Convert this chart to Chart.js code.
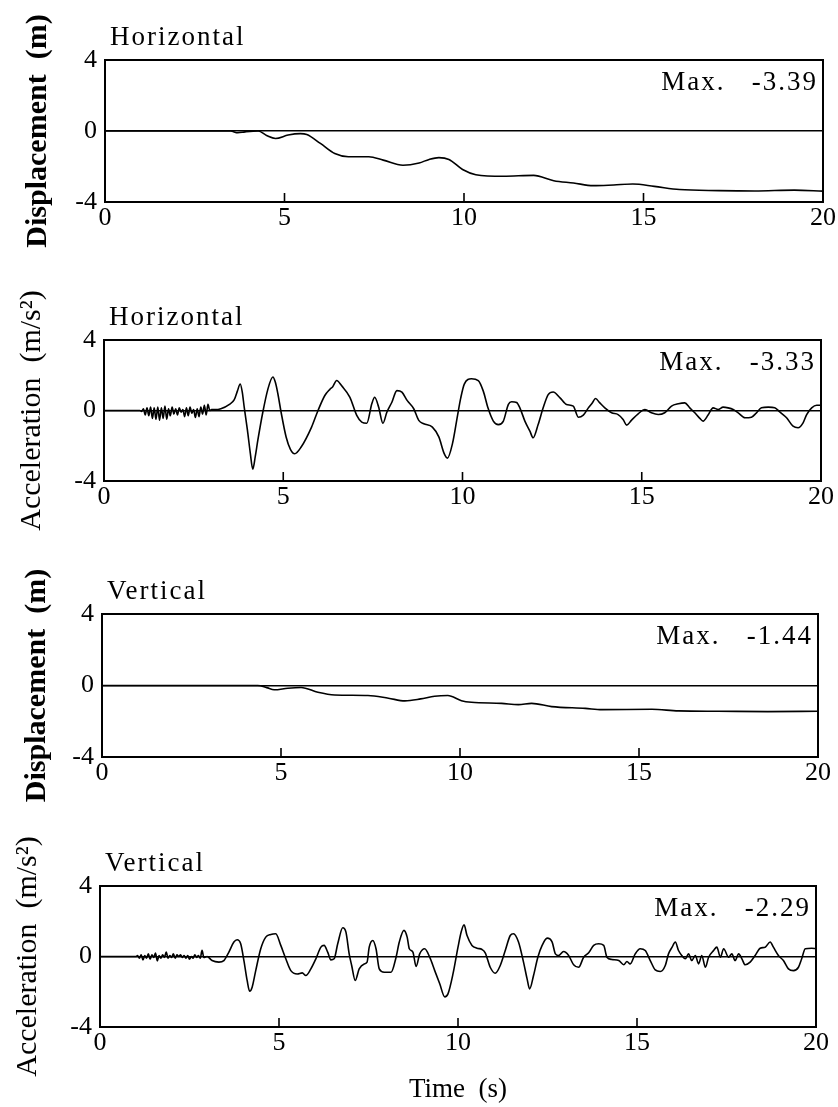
<!DOCTYPE html>
<html>
<head>
<meta charset="utf-8">
<script src="https://cdn.jsdelivr.net/npm/chart.js@4.4.1/dist/chart.umd.min.js"></script>
<style>
  html, body { margin: 0; padding: 0; background: #fff; }
  body { width: 838px; height: 1107px; position: relative; overflow: hidden; }
  canvas { position: absolute; left: 0; }
</style>
</head>
<body>
<canvas id="c1" width="838" height="270" style="top:0px"></canvas>
<canvas id="c2" width="838" height="275" style="top:270px"></canvas>
<canvas id="c3" width="838" height="265" style="top:545px"></canvas>
<canvas id="c4" width="838" height="297" style="top:810px"></canvas>
<script>
// ---------------- DATA ----------------
const xTicks = [0, 5, 10, 15, 20];
const xTickLabels = ['0', '5', '10', '15', '20'];
const yTicks = [-4, 0, 4];
const yTickLabels = ['-4', '0', '4'];
const innerTickValues = [5, 10, 15];

const panelNames = ['Horizontal', 'Horizontal', 'Vertical', 'Vertical'];
const maxLabels = ['Max.   -3.39', 'Max.   -3.33', 'Max.   -1.44', 'Max.   -2.29'];
const yTitles = ['Displacement  (m)', 'Acceleration  (m/s\u00B2)', 'Displacement  (m)', 'Acceleration  (m/s\u00B2)'];
const xTitle = 'Time  (s)';

// Horizontal displacement (m)
const hDispT = [0, 3.5, 3.7, 3.9, 4.27, 4.5, 4.75, 5.1, 5.44, 5.62, 6.0, 6.4, 6.78, 7.35, 7.75, 8.3, 8.75, 9.03, 9.3, 9.58, 9.96, 10.33, 11.1, 11.94, 12.5, 13.05, 13.6, 14.17, 14.7, 15.3, 16.0, 17.1, 18.1, 19.2, 20.0];
const hDispV = [0, 0, -0.1, -0.05, 0, -0.25, -0.42, -0.23, -0.15, -0.2, -0.7, -1.27, -1.45, -1.45, -1.64, -1.93, -1.8, -1.6, -1.5, -1.6, -2.17, -2.46, -2.55, -2.5, -2.8, -2.93, -3.08, -3.04, -2.99, -3.12, -3.3, -3.36, -3.38, -3.33, -3.39];

// Horizontal acceleration (m/s2)
const hAccT = [0, 1.0, 1.05, 1.1, 1.15, 1.2, 1.25, 1.3, 1.35, 1.4, 1.45, 1.5, 1.55, 1.6, 1.65, 1.7, 1.75, 1.8, 1.85, 1.9, 1.95, 2.0, 2.05, 2.1, 2.15, 2.2, 2.25, 2.3, 2.35, 2.4, 2.45, 2.5, 2.55, 2.6, 2.65, 2.7, 2.75, 2.8, 2.85, 2.9, 2.95, 3.0, 3.1,
  3.26, 3.5, 3.63, 3.72, 3.8, 3.86, 3.91, 4.0, 4.08, 4.15, 4.22, 4.29, 4.43, 4.57, 4.71, 4.78, 4.85, 4.94, 5.08, 5.2, 5.32, 5.5, 5.79, 5.97, 6.16, 6.3, 6.38, 6.49, 6.63, 6.86, 7.05, 7.19, 7.33, 7.47, 7.55, 7.66, 7.78, 7.89, 8.03, 8.17, 8.31, 8.46, 8.64, 8.78, 8.92, 9.16, 9.34, 9.49, 9.58, 9.72, 9.86, 9.95,
  10.05, 10.25, 10.44, 10.58, 10.71, 10.86, 11.0, 11.14, 11.28, 11.37, 11.51, 11.6, 11.74, 11.88, 11.97, 12.11, 12.25, 12.39, 12.53, 12.72, 12.9, 13.09, 13.23, 13.37, 13.51, 13.62, 13.71, 13.83, 13.97, 14.16, 14.34, 14.48, 14.58, 14.71, 14.9,
  15.09, 15.27, 15.46, 15.64, 15.83, 16.02, 16.2, 16.34, 16.48, 16.62, 16.71, 16.85, 16.99, 17.13, 17.27, 17.41, 17.55, 17.69, 17.88, 18.06, 18.2, 18.34, 18.53, 18.71, 18.85, 19.04, 19.22, 19.36, 19.5, 19.6, 19.74, 19.88, 20.0];
const hAccV = [0, 0, -0.05, 0.1, -0.25, 0.15, -0.3, 0.2, -0.45, 0.15, -0.5, 0.2, -0.55, 0.15, -0.45, 0.25, -0.5, 0.1, -0.3, 0.2, -0.2, 0.1, -0.25, 0.15, -0.1, 0.05, -0.35, 0.15, -0.3, 0.2, -0.15, 0.05, -0.4, 0.1, -0.35, 0.2, -0.2, 0.3, -0.25, 0.35, 0.0, 0.05, 0.05,
  0.1, 0.35, 0.6, 1.1, 1.5, 1.0, 0.2, -1.1, -2.4, -3.33, -2.6, -1.7, -0.1, 1.2, 1.9, 1.6, 0.95, -0.1, -1.5, -2.2, -2.45, -2.07, -0.94, 0, 0.85, 1.2, 1.35, 1.7, 1.4, 0.75, -0.28, -0.66, -0.72, 0.38, 0.75, 0.2, -0.72, -0.1, 0.47, 1.13, 1.04, 0.56, 0.1, -0.56, -0.75, -0.94, -1.5, -2.45, -2.7, -1.88, -0.3, 0.7,
  1.5, 1.8, 1.7, 1.1, 0.15, -0.6, -0.8, -0.6, 0.35, 0.5, 0.45, 0.15, -0.6, -1.17, -1.55, -0.8, 0.15, 0.9, 1.05, 0.72, 0.34, 0.25, -0.38, -0.26, 0.15, 0.43, 0.68, 0.43, 0.15, -0.13, -0.23, -0.51, -0.83, -0.56, -0.19,
  0.06, -0.13, -0.23, -0.13, 0.25, 0.38, 0.43, 0.15, -0.13, -0.45, -0.6, -0.26, 0.15, 0.06, 0.19, 0.15, 0.06, -0.13, -0.41, -0.38, -0.13, 0.15, 0.19, 0.15, -0.08, -0.41, -0.89, -0.98, -0.7, -0.23, 0.15, 0.3, 0.3];

// Vertical displacement (m)
const vDispT = [0, 4.35, 4.6, 4.81, 5.19, 5.56, 6.03, 6.5, 7.43, 8.0, 8.46, 8.9, 9.29, 9.66, 10.04, 10.32, 11.16, 11.63, 12.0, 12.56, 13.5, 13.96, 15.36, 16.1, 17.2, 18.6, 20.0];
const vDispV = [0, 0, -0.12, -0.24, -0.15, -0.11, -0.38, -0.53, -0.56, -0.71, -0.86, -0.75, -0.6, -0.56, -0.85, -0.94, -1.0, -1.07, -1.0, -1.18, -1.28, -1.35, -1.33, -1.42, -1.44, -1.46, -1.44];

// Vertical acceleration (m/s2)
const vAccT = [0, 1.0, 1.05, 1.1, 1.15, 1.2, 1.25, 1.3, 1.35, 1.4, 1.45, 1.5, 1.55, 1.6, 1.65, 1.7, 1.75, 1.8, 1.85, 1.9, 1.95, 2.0, 2.05, 2.1, 2.15, 2.2, 2.25, 2.3, 2.35, 2.4, 2.45, 2.5, 2.55, 2.6, 2.65, 2.7, 2.75, 2.8, 2.85, 2.9, 2.99,
  3.13, 3.32, 3.46, 3.6, 3.74, 3.83, 3.93, 4.02, 4.11, 4.18, 4.25, 4.35, 4.49, 4.63, 4.77, 4.91, 5.05, 5.19, 5.33, 5.51, 5.65, 5.75, 5.89, 6.03, 6.17, 6.26, 6.36, 6.45, 6.54, 6.64, 6.78, 6.87, 6.96, 7.03, 7.13, 7.24, 7.38, 7.46, 7.52, 7.62, 7.71, 7.8, 7.94, 8.13, 8.27, 8.36, 8.49, 8.58, 8.64, 8.74, 8.83, 8.93, 9.07, 9.21, 9.35, 9.49, 9.63, 9.72, 9.86,
  10.0, 10.09, 10.17, 10.25, 10.39, 10.53, 10.67, 10.76, 10.9, 11.04, 11.18, 11.32, 11.46, 11.55, 11.69, 11.83, 11.93, 12.0, 12.11, 12.23, 12.35, 12.49, 12.63, 12.72, 12.81, 12.95, 13.09, 13.23, 13.37, 13.51, 13.65, 13.79, 13.93, 14.07, 14.16, 14.3, 14.49, 14.63, 14.72, 14.81, 14.95,
  15.09, 15.23, 15.37, 15.51, 15.65, 15.79, 15.88, 15.98, 16.07, 16.16, 16.25, 16.35, 16.44, 16.53, 16.63, 16.72, 16.81, 16.91, 17.0, 17.14, 17.23, 17.33, 17.42, 17.56, 17.65, 17.74, 17.84, 17.93, 18.02, 18.16, 18.3, 18.44, 18.58, 18.72, 18.81, 18.95, 19.09, 19.23, 19.37, 19.51, 19.6, 19.7, 19.88, 20.0];
const vAccV = [0, 0, 0.05, -0.1, 0.1, -0.2, 0.05, -0.1, 0.15, -0.15, 0.1, -0.05, 0.2, -0.25, 0.05, -0.1, 0.1, -0.05, 0.25, -0.1, 0.05, -0.05, 0.15, -0.1, 0.1, 0.0, 0.1, -0.05, 0.05, -0.1, 0.05, -0.15, 0.0, -0.1, 0.1, -0.05, 0.05, -0.1, 0.35, -0.05, 0.0,
  -0.23, -0.32, -0.23, 0.25, 0.82, 0.95, 0.72, -0.23, -1.36, -1.97, -1.74, -0.8, 0.44, 1.1, 1.25, 1.29, 0.63, -0.13, -0.8, -0.99, -0.93, -1.08, -0.7, -0.13, 0.53, 0.63, 0.25, -0.19, -0.13, 0.72, 1.63, 1.38, 0.15, -0.51, -1.36, -0.7, -0.42, -0.32, 0.53, 0.91, 0.44, -0.7, -0.89, -0.89, -0.04, 0.82, 1.48, 1.1, 0.44, 0.25, -0.57, 0.15, 0.44, -0.04, -0.8, -1.55, -2.29, -2.12, -0.99,
  0.53, 1.4, 1.8, 1.2, 0.63, 0.47, 0.4, 0.21, -0.61, -0.95, -0.51, 0.34, 1.19, 1.29, 0.82, -0.32, -1.27, -1.84, -1.08, -0.04, 0.63, 1.04, 0.82, 0.15, 0.06, 0.28, 0.06, -0.47, -0.61, -0.04, 0.21, 0.63, 0.72, 0.63, -0.04, -0.17, -0.23, -0.47, -0.28, -0.42, 0.15,
  0.44, 0.34, -0.23, -0.76, -0.85, -0.51, 0.15, 0.53, 0.82, 0.34, 0.06, -0.13, 0.15, -0.23, 0.06, -0.42, 0.06, -0.61, -0.04, 0.34, 0.53, -0.04, 0.44, -0.04, 0.15, -0.23, 0.15, -0.13, -0.47, -0.32, 0.06, 0.47, 0.53, 0.82, 0.53, 0.06, -0.23, -0.7, -0.8, -0.61, -0.13, 0.44, 0.47, 0.45];

// ---------------- LAYOUT ----------------
const FONT = '"Liberation Serif", "DejaVu Serif", serif';
const panels = [
  { id: 'c1', t: hDispT, v: hDispV, padTop: 60, padRight: 15, yWidth: 105, xHeight: 68, titlePad: 20, bold: true, xTitle: false },
  { id: 'c2', t: hAccT,  v: hAccV,  padTop: 70, padRight: 17, yWidth: 104, xHeight: 64, titlePad: 14, bold: false, xTitle: false },
  { id: 'c3', t: vDispT, v: vDispV, padTop: 69, padRight: 20, yWidth: 102, xHeight: 53, titlePad: 19, bold: true, xTitle: false },
  { id: 'c4', t: vAccT,  v: vAccV,  padTop: 76, padRight: 22, yWidth: 100, xHeight: 80, titlePad: 10, bold: false, xTitle: true }
];

const framePlugin = {
  id: 'frame',
  afterDatasetsDraw(chart, args, opts) {
    const { ctx, chartArea: a, scales } = chart;
    ctx.save();
    ctx.strokeStyle = '#000';
    ctx.lineWidth = 2;
    ctx.strokeRect(a.left, a.top, a.right - a.left, a.bottom - a.top);
    ctx.lineWidth = 1.6;
    innerTickValues.forEach(v => {
      const px = scales.x.getPixelForValue(v);
      ctx.beginPath();
      ctx.moveTo(px, a.bottom);
      ctx.lineTo(px, a.bottom - 9);
      ctx.stroke();
    });
    ctx.fillStyle = '#000';
    ctx.font = '27px ' + FONT;
    try { ctx.letterSpacing = '2px'; } catch (e) {}
    ctx.textBaseline = 'alphabetic';
    ctx.textAlign = 'left';
    ctx.fillText(opts.name, a.left + 5, a.top - 15);
    ctx.textAlign = 'right';
    ctx.fillText(opts.max, a.right - 5, a.top + 30);
    ctx.restore();
  }
};

panels.forEach((p, i) => {
  const data = p.t.map((t, k) => ({ x: t, y: p.v[k] }));
  new Chart(document.getElementById(p.id), {
    type: 'line',
    data: {
      datasets: [{
        data: data,
        borderColor: '#000',
        borderWidth: 1.6,
        pointRadius: 0,
        fill: false,
        cubicInterpolationMode: 'monotone'
      }]
    },
    plugins: [framePlugin],
    options: {
      responsive: false,
      animation: false,
      events: [],
      layout: { padding: { top: p.padTop, right: p.padRight, left: 0, bottom: 0 } },
      plugins: {
        legend: { display: false },
        tooltip: { enabled: false },
        frame: { name: panelNames[i], max: maxLabels[i] }
      },
      scales: {
        x: {
          type: 'linear',
          min: 0, max: 20,
          afterBuildTicks: s => { s.ticks = xTicks.map(v => ({ value: v })); },
          afterFit: s => { s.height = p.xHeight; },
          grid: { display: false, drawTicks: false },
          border: { display: false },
          ticks: {
            autoSkip: false,
            maxRotation: 0,
            padding: 1,
            color: '#000',
            font: { family: FONT, size: 26 },
            callback: v => xTickLabels[xTicks.indexOf(v)]
          },
          title: {
            display: p.xTitle,
            text: xTitle,
            color: '#000',
            font: { family: FONT, size: 27 },
            padding: { top: 0, bottom: 1 }
          }
        },
        y: {
          type: 'linear',
          min: -4, max: 4,
          afterBuildTicks: s => { s.ticks = yTicks.map(v => ({ value: v })); },
          afterFit: s => { s.width = p.yWidth; },
          grid: {
            drawTicks: false,
            lineWidth: 1.6,
            color: c => (c.tick && c.tick.value === 0) ? '#000' : 'rgba(0,0,0,0)'
          },
          border: { display: false },
          ticks: {
            padding: 8,
            color: '#000',
            font: { family: FONT, size: 26 },
            callback: v => yTickLabels[yTicks.indexOf(v)]
          },
          title: {
            display: true,
            text: yTitles[i],
            color: '#000',
            font: { family: FONT, size: 30, weight: p.bold ? 'bold' : 'normal' },
            padding: { top: p.titlePad, bottom: 0 }
          }
        }
      }
    }
  });
});
</script>
</body>
</html>
